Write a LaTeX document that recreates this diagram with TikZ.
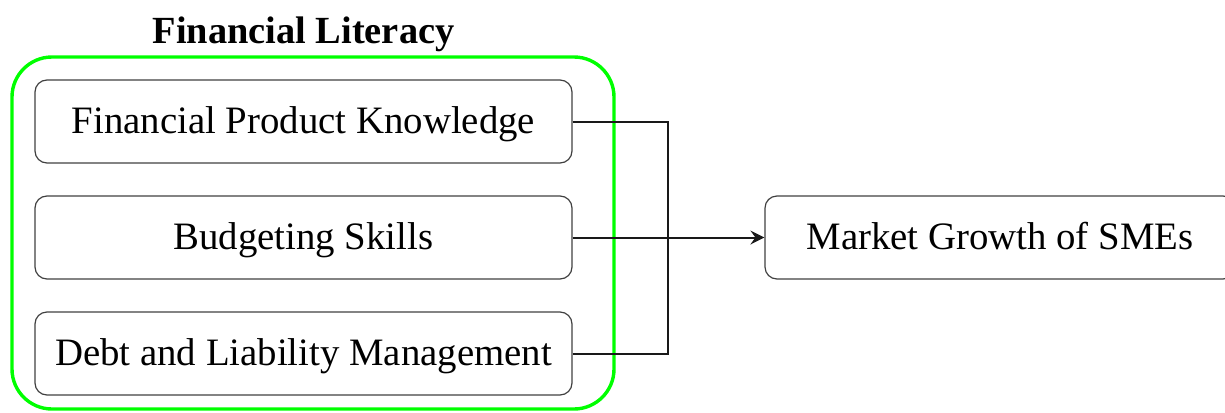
\documentclass[tikz,border=0pt]{standalone}
\usepackage{fontspec}
\setmainfont{Liberation Serif}
\usetikzlibrary{arrows.meta}

\tikzset{
  itembox/.style={draw=black!75, line width=0.6pt, rounded corners=6pt,
    minimum width=268.5pt, minimum height=41.5pt, inner sep=0pt,
    text height=14pt, text depth=2pt,
    font=\fontsize{19.4}{22}\selectfont},
  link/.style={draw=black!90, line width=1pt}
}

\begin{document}
\begin{tikzpicture}[x=0.5pt,y=-0.5pt]

\useasboundingbox (0,0) rectangle (1225,412);

\draw[green, line width=1.7pt, rounded corners=20pt] (12,57) rectangle (614,409);
\node[anchor=base, font=\bfseries\fontsize{19.2}{22}\selectfont] (title) at (303.5,43.5) {Financial Literacy};

 \foreach \txt [count=\i] in {Financial Product Knowledge,Budgeting Skills,Debt and Liability Management}
 {\node[itembox] (F\i) at (303.5,{121.5+116*(\i-1)}) {\txt};
 }

\node[itembox, minimum width=235pt] (growth) at (1000,237.5) {Market Growth of SMEs};

\coordinate (J) at (668,237.5);
\draw[link] (F1.east) -| (J);
\draw[link] (F3.east) -| (J);
\draw[link] (F2.east) -- (J);
\draw[link, -{Stealth[length=7pt,width=7pt,inset=2.5pt]}] (J) -- (growth.west);

\end{tikzpicture}
\end{document}
